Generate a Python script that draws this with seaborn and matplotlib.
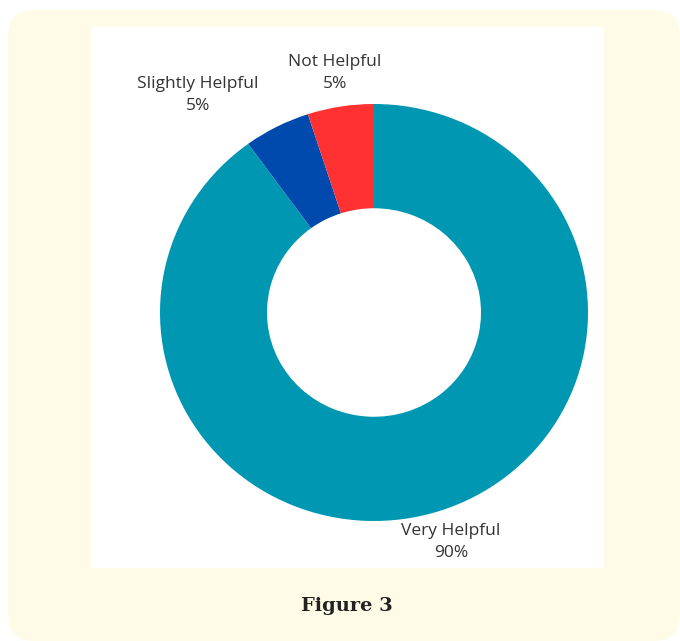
import matplotlib
matplotlib.use("Agg")
import matplotlib.pyplot as plt
from matplotlib.patches import FancyBboxPatch, Rectangle
import seaborn as sns

categories = ["Very Helpful", "Slightly Helpful", "Not Helpful"]
values = [90, 5, 5]
colors = ["#0097B2", "#004AAD", "#FF3131"]
label_texts = ["Very Helpful\n90%", "Slightly Helpful\n5%", "Not Helpful\n5%"]

sns.set_theme(style="white")
plt.rcParams['font.family'] = ['Open Sans', 'DejaVu Sans']

W, H = 680, 641
fig = plt.figure(figsize=(W / 100, H / 100), dpi=100)
fig.patch.set_facecolor("white")

def fx(px):
    return px / W

def fy(py):
    return 1 - py / H

# cream panel
panel = FancyBboxPatch((fx(8), 0.0), fx(672), fy(10),
                       boxstyle="round,pad=0,rounding_size=0.04",
                       transform=fig.transFigure, facecolor="#FFFBE7",
                       edgecolor="none", zorder=0)
fig.patches.append(panel)
# white chart area
white = Rectangle((fx(91), fy(568)), fx(604 - 91), fy(27) - fy(568),
                  transform=fig.transFigure, facecolor="white",
                  edgecolor="none", zorder=1)
fig.patches.append(white)

RX, RY = 214.0, 208.5
cx, cy = 374, 312.5
lim = 1.4
sw, sh = 2 * lim * RX, 2 * lim * RY
ax = fig.add_axes([fx(cx - sw / 2), fy(cy + sh / 2), sw / W, sh / H])
ax.set_zorder(5)
ax.set_facecolor("none")
ax.patch.set_alpha(0)
ax.pie(values, colors=colors, startangle=90, counterclock=False,
       radius=1.0, wedgeprops=dict(width=0.5, edgecolor="none"))
ax.set_xlim(-lim, lim)
ax.set_ylim(-lim, lim)
ax.set_aspect("auto")
ax.axis("off")

# label centres (pixels in reference) converted to pie units
label_px = [(451, 542), (198, 95), (335, 73)]
for txt, (px, py) in zip(label_texts, label_px):
    ax.text((px - cx) / RX, (cy - py) / RY, txt, ha="center", va="center",
            fontsize=12.5, color="#333333", linespacing=1.5)

fig.text(fx(347), fy(606), "Figure 3", ha="center", va="center",
         fontsize=14, fontweight="bold", color="#222222",
         family=["DejaVu Serif"], zorder=6)

fig.savefig("out.png", dpi=100)
